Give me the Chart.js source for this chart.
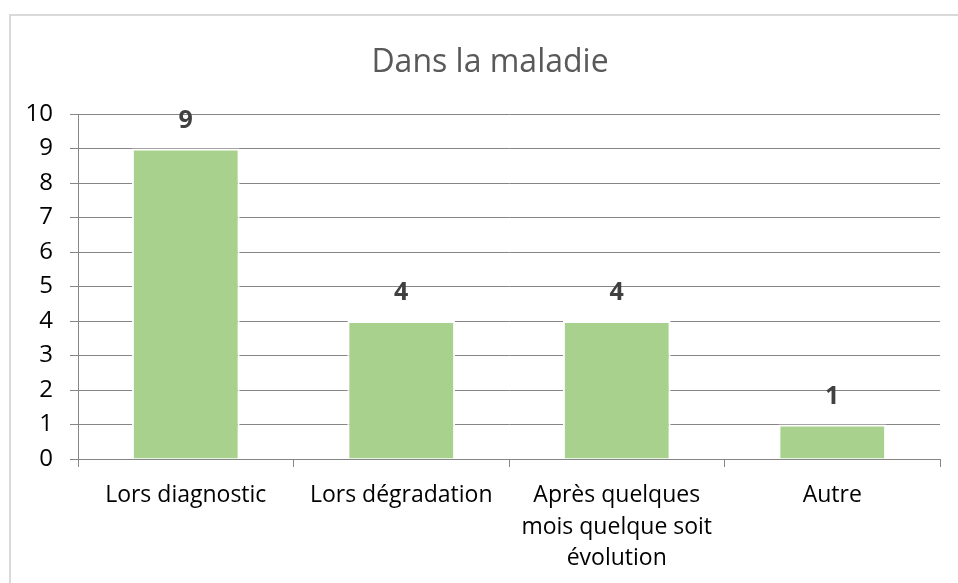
<!DOCTYPE html>
<html>
<head>
<meta charset="utf-8">
<script src="https://cdn.jsdelivr.net/npm/chart.js@4/dist/chart.umd.min.js"></script>
<style>
	html, body { margin: 0; padding: 0; background: #fff; }
	#wrap { width: 958px; height: 583px; }
</style>
</head>
<body>
<div id="wrap"><canvas id="chart" width="958" height="583"></canvas></div>
<script>
// données du graphique
const categories = [
	'Lors diagnostic',
	'Lors dégradation',
	['Après quelques', 'mois quelque soit', 'évolution'],
	'Autre',
]
const values = [9, 4, 4, 1]
const y_min = 0
const y_max = 10
const y_step = 1

const chart_title = 'Dans la maladie'
const font_family = '"Open Sans", "Liberation Sans", sans-serif'

// cadre gris autour du graphique + titre centré sur le cadre (comme dans Excel)
const frame_plugin = {
	id: 'frame',
	beforeDraw(chart) {
		const ctx = chart.ctx
		ctx.save()
		ctx.fillStyle = '#fff'
		ctx.fillRect(0, 0, chart.width, chart.height)
		ctx.strokeStyle = '#d9d9d9'
		ctx.lineWidth = 2
		ctx.strokeRect(10, 15, chart.width + 20, chart.height + 20)

		ctx.font = '32px ' + font_family
		ctx.fillStyle = '#595959'
		ctx.textAlign = 'center'
		ctx.textBaseline = 'alphabetic'
		ctx.fillText(chart_title, 490, 72)
		ctx.restore()
	}
}

// étiquettes de valeur au-dessus des barres
const value_label_plugin = {
	id: 'valueLabels',
	afterDatasetsDraw(chart) {
		const ctx = chart.ctx
		const meta = chart.getDatasetMeta(0)
		ctx.save()
		ctx.font = 'bold 25px ' + font_family
		ctx.fillStyle = '#404040'
		ctx.textAlign = 'center'
		ctx.textBaseline = 'middle'
		meta.data.forEach(function(bar, i) {
			ctx.fillText(String(values[i]), bar.x, bar.y - 28)
		})
		ctx.restore()
	}
}

const chart = new Chart(document.getElementById('chart'), {
	type: 'bar',
	data: {
		labels: categories,
		datasets: [
			{
				data: values,
				backgroundColor: '#a9d18e',
				borderColor: '#ffffff',
				borderWidth: 2,
				borderSkipped: 'start',
				categoryPercentage: 1,
				barPercentage: 0.5,
			}
		]
	},
	options: {
		responsive: false,
		animation: false,
		layout: {
			padding: { left: 0, right: 18, top: 114, bottom: 0 }
		},
		plugins: {
			legend: { display: false },
			tooltip: { enabled: false },
			title: { display: false }
		},
		scales: {
			x: {
				grid: {
					drawOnChartArea: false,
					drawTicks: true,
					tickLength: 8,
					color: '#868686',
					offset: true
				},
				border: { display: true, color: '#868686', width: 1 },
				ticks: {
					color: '#000',
					padding: 12,
					maxRotation: 0,
					autoSkip: false,
					font: { family: font_family, size: 23, lineHeight: 1.39 }
				},
				afterFit(scale) { scale.height = 124 }
			},
			y: {
				min: y_min,
				max: y_max,
				grid: {
					color: '#868686',
					tickLength: 8,
					drawTicks: true
				},
				border: { display: true, color: '#868686', width: 1 },
				ticks: {
					stepSize: y_step,
					color: '#000',
					padding: 17,
					font: { family: font_family, size: 24 }
				},
				afterFit(scale) { scale.width = 78 }
			}
		}
	},
	plugins: [frame_plugin, value_label_plugin]
})
</script>
</body>
</html>
